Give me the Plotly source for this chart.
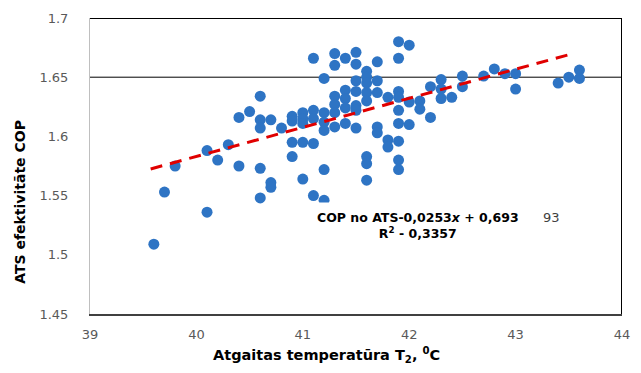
import plotly.graph_objects as go

# Data (x = return temperature, y = COP)
col_x = [39.6, 39.7, 39.8, 40.1, 40.2, 40.3, 40.4, 40.5, 40.6, 40.7, 40.8, 40.9,
         41.0, 41.1, 41.2, 41.3, 41.4, 41.5, 41.6, 41.7, 41.8, 41.9, 42.0, 42.1,
         42.2, 42.3, 42.4, 42.5, 42.7, 42.8, 42.9, 43.0, 43.4, 43.5, 43.6]
col_y = [
    [1.509],
    [1.553],
    [1.575],
    [1.536, 1.588],
    [1.580],
    [1.593],
    [1.575, 1.616],
    [1.621],
    [1.634, 1.614, 1.607, 1.573, 1.548],
    [1.614, 1.561, 1.557],
    [1.607],
    [1.617, 1.613, 1.595, 1.583],
    [1.620, 1.615, 1.611, 1.595, 1.564],
    [1.666, 1.622, 1.615, 1.594, 1.550],
    [1.649, 1.620, 1.612, 1.605, 1.572, 1.546],
    [1.670, 1.660, 1.634, 1.627, 1.620, 1.608],
    [1.666, 1.639, 1.632, 1.624, 1.611],
    [1.671, 1.661, 1.647, 1.638, 1.626, 1.622, 1.607],
    [1.655, 1.650, 1.645, 1.637, 1.630, 1.583, 1.577, 1.563],
    [1.663, 1.647, 1.637, 1.608, 1.603],
    [1.633, 1.597, 1.591],
    [1.680, 1.666, 1.638, 1.633, 1.622, 1.611, 1.596, 1.580, 1.572],
    [1.677, 1.629, 1.610],
    [1.630, 1.623],
    [1.642, 1.616],
    [1.648, 1.640, 1.632],
    [1.633],
    [1.651, 1.642],
    [1.651],
    [1.657],
    [1.653],
    [1.653, 1.640],
    [1.645],
    [1.650],
    [1.656, 1.649],
]
trend_x = [39.57, 43.5]
trend_y = [1.5725, 1.669]
ref_line_y = 1.65
x_ticks = [39, 40, 41, 42, 43, 44]
y_ticks = [1.45, 1.5, 1.55, 1.6, 1.65, 1.7]
y_tick_text = ["1.45", "1.5", "1.55", "1.6", "1.65", "1.7"]

xs, ys = [], []
for cx, vals in zip(col_x, col_y):
    for v in vals:
        xs.append(cx)
        ys.append(v)

fig = go.Figure()
fig.add_trace(go.Scatter(x=xs, y=ys, mode="markers",
                         marker=dict(size=11, color="#2E74C4", line=dict(width=0)),
                         showlegend=False, hoverinfo="skip"))
fig.add_trace(go.Scatter(x=trend_x, y=trend_y, mode="lines",
                         line=dict(color="#E00000", width=3, dash="12px,8px"),
                         showlegend=False, hoverinfo="skip"))

# horizontal reference line, top and right borders
fig.add_shape(type="line", xref="paper", x0=0, x1=1, yref="y", y0=ref_line_y, y1=ref_line_y,
              line=dict(color="black", width=1), layer="below")
fig.add_shape(type="line", xref="paper", x0=0, x1=1, yref="y", y0=y_ticks[-1], y1=y_ticks[-1],
              line=dict(color="black", width=2))
fig.add_shape(type="line", xref="x", x0=x_ticks[-1], x1=x_ticks[-1], yref="paper", y0=0, y1=1,
              line=dict(color="black", width=2))

tick_font = dict(family="DejaVu Sans", size=13, color="#595959")

fig.update_layout(
    width=641, height=373,
    margin=dict(l=90, r=11, t=16, b=59),
    paper_bgcolor="white", plot_bgcolor="white",
    font=dict(family="DejaVu Sans", size=13, color="#595959"),
    xaxis=dict(range=[x_ticks[0], x_ticks[-1]], tickvals=x_ticks, showgrid=False,
               zeroline=False, showline=True, linecolor="#404040", linewidth=1.5,
               ticks="", ticklabelstandoff=8, tickfont=tick_font),
    yaxis=dict(range=[y_ticks[0], y_ticks[-1]], tickvals=y_ticks, ticktext=y_tick_text,
               showgrid=False, zeroline=False, showline=True, linecolor="#BFBFBF",
               linewidth=1, ticks="", ticklabelstandoff=18, tickfont=tick_font),
)

def px(xp):
    return (xp - 90) / 540

def py(yp):
    return (314 - yp) / 298

fig.add_annotation(xref="paper", yref="paper", x=px(19), y=py(201),
                   xanchor="center", yanchor="middle",
                   text="<b>ATS efektivitāte COP</b>", textangle=-90, showarrow=False,
                   font=dict(family="DejaVu Sans", size=14, color="black"))
fig.add_annotation(xref="paper", yref="paper", x=px(330), y=py(355),
                   xanchor="center", yanchor="middle",
                   text="<b>Atgaitas temperatūra T<sub>2</sub>, <sup>0</sup>C</b>",
                   showarrow=False,
                   font=dict(family="DejaVu Sans", size=14.5, color="black"))
fig.add_annotation(xref="paper", yref="paper", x=px(423), y=py(225),
                   xanchor="center", yanchor="middle",
                   text="<b>COP no ATS-0,0253<i>x</i> + 0,693</b><br><b>R<sup>2</sup> - 0,3357</b>",
                   showarrow=False, align="center", bgcolor="white", borderpad=7,
                   font=dict(family="DejaVu Sans", size=12.5, color="black"))
fig.add_annotation(xref="paper", yref="paper", x=px(558), y=py(217),
                   xanchor="center", yanchor="middle",
                   text="93", showarrow=False,
                   font=dict(family="DejaVu Sans", size=13, color="#404040"))

fig.write_html("out.html")
